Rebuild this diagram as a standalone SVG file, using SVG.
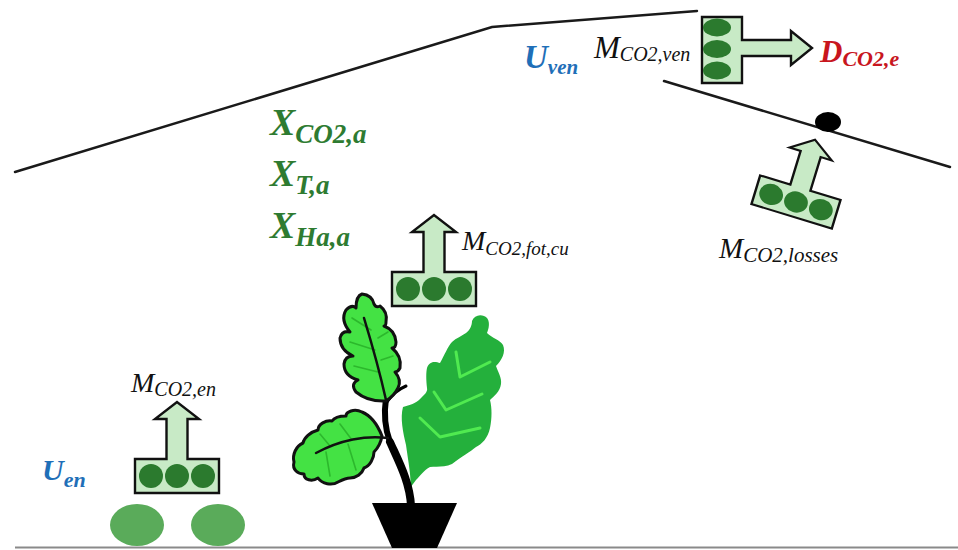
<svg xmlns="http://www.w3.org/2000/svg" xmlns:xlink="http://www.w3.org/1999/xlink" width="958" height="550" viewBox="0 0 958 550">
  <style>
    .roof { fill: none; stroke: #1a1a1a; stroke-width: 2.5; stroke-linecap: round; }
    .ground { stroke: #8a8a8a; stroke-width: 2; }
    .flux { fill: #c8eac6; stroke: #111; stroke-width: 2.4; stroke-linejoin: miter; }
    .cell { fill: #2b7a2e; }
    .m { font-family: "Liberation Serif", "Times New Roman", serif; font-style: italic; fill: #111; }
    .state { font-family: "Liberation Serif", "Times New Roman", serif; font-style: italic; font-weight: bold; fill: #2e7b31; }
    .ctrl { font-family: "Liberation Serif", "Times New Roman", serif; font-style: italic; font-weight: bold; fill: #1f6fb8; }
    .dist { font-family: "Liberation Serif", "Times New Roman", serif; font-style: italic; font-weight: bold; fill: #c8161e; }
    .leafA { fill: #44e244; stroke: #111; stroke-width: 3; stroke-linejoin: round; }
    .rib { fill: none; stroke: #111; stroke-width: 2.5; stroke-linecap: round; }
    .ribA { fill: none; stroke: #2cb82c; stroke-width: 1.6; stroke-linecap: round; }
    .vein { fill: none; stroke: #50ea50; stroke-width: 3; stroke-linecap: round; stroke-linejoin: round; }
  </style>
  <defs>
    <!-- flux symbol: store with three cells and an outgoing arrow, centred on the store -->
    <g id="fluxUp">
      <path class="flux" d="M-42,-17 H-10.5 V-57 H-22 L0,-74 L22,-57 H10.5 V-17 H42 V17 H-42 Z"/>
      <circle class="cell" cx="-26" cy="0" r="12"/>
      <circle class="cell" cx="0" cy="0" r="12"/>
      <circle class="cell" cx="26" cy="0" r="12"/>
    </g>
  </defs>

  <rect width="958" height="550" fill="#fff"/>

  <!-- greenhouse outline -->
  <g id="greenhouse">
    <polyline class="roof" points="15,172 492,27 697,11"/>
    <line class="roof" x1="664" y1="81" x2="950" y2="167"/>
    <line class="ground" x1="15" y1="547.5" x2="958" y2="547.5"/>
    <ellipse cx="828" cy="122" rx="13" ry="10" fill="#000"/>
  </g>

  <!-- state variables -->
  <g id="states">
    <text class="state" x="270" y="135" font-size="38">X<tspan font-size="27" dy="8">CO2,a</tspan></text>
    <text class="state" x="270" y="186" font-size="38">X<tspan font-size="27" dy="8">T,a</tspan></text>
    <text class="state" x="270" y="238" font-size="38">X<tspan font-size="27" dy="8">Ha,a</tspan></text>
  </g>

  <!-- CO2 injection -->
  <g id="injection">
    <use xlink:href="#fluxUp" href="#fluxUp" transform="translate(177,476)"/>
    <text class="m" x="131" y="392" font-size="28">M<tspan font-size="20" dy="4">CO2,en</tspan></text>
    <text class="ctrl" x="42" y="480" font-size="30">U<tspan font-size="22" dy="7">en</tspan></text>
    <ellipse cx="137" cy="525" rx="27" ry="21" fill="#5aab5a"/>
    <ellipse cx="218" cy="525" rx="27" ry="21" fill="#5aab5a"/>
  </g>

  <!-- photosynthesis uptake -->
  <g id="photosynthesis">
    <use xlink:href="#fluxUp" href="#fluxUp" transform="translate(434,289)"/>
    <text class="m" x="462" y="250" font-size="28">M<tspan font-size="19" dy="5">CO2,fot,cu</tspan></text>
  </g>

  <!-- ventilation -->
  <g id="ventilation">
    <path class="flux" d="M702,17 H742 V40 H791 V31 L812,48 L791,65 V56 H742 V83 H702 Z"/>
    <ellipse class="cell" cx="717" cy="27.5" rx="14" ry="9"/>
    <ellipse class="cell" cx="717" cy="49" rx="14" ry="9"/>
    <ellipse class="cell" cx="717" cy="70.5" rx="14" ry="9"/>
    <text class="ctrl" x="524" y="68" font-size="33">U<tspan font-size="21" dy="6">ven</tspan></text>
    <text class="m" x="594" y="58" font-size="31">M<tspan font-size="20" dy="3">CO2,ven</tspan></text>
    <text class="dist" x="820" y="62" font-size="31">D<tspan font-size="22" dy="4">CO2,e</tspan></text>
  </g>

  <!-- leakage losses -->
  <g id="losses">
    <use xlink:href="#fluxUp" href="#fluxUp" transform="translate(796,202) rotate(17) scale(1,0.88)"/>
    <text class="m" x="719" y="258" font-size="29">M<tspan font-size="21" dy="4">CO2,losses</tspan></text>
  </g>

  <!-- crop -->
  <g id="plant">
    <!-- right leaf -->
    <path fill="#24b03c" d="M410,488 C412,480 408,460 406,445 C403,432 400,418 403,407 C410,405 416,403 419,400 C424,395 428,392 427,388 C426,380 426,372 427,368 C430,360 436,362 440,363 C444,356 448,346 452,342 C456,338 462,336 466,333 C470,330 472,325 472,321 C474,316 479,314 484,316 C490,318 490,326 487,333 C492,338 500,340 503,345 C506,352 502,360 496,366 C498,372 502,378 501,384 C500,392 494,396 490,400 C492,408 492,418 490,428 C488,438 482,444 476,447 C470,452 462,456 452,464 C444,468 436,466 430,467 C424,470 420,476 416,480 Z"/>
    <path class="vein" d="M456,352 L460,377 L490,362"/>
    <path class="vein" d="M434,392 L446,410 L482,394"/>
    <path class="vein" d="M420,418 L440,437 L480,428"/>
    <!-- stem and twig -->
    <path fill="none" stroke="#000" stroke-width="8" stroke-linecap="round" d="M411,506 C410,482 398,460 390,442"/>
    <path fill="none" stroke="#000" stroke-width="6" stroke-linecap="round" d="M390,442 C384,426 384,412 386,398"/>
    <path fill="none" stroke="#000" stroke-width="3" stroke-linecap="round" d="M387,402 C392,394 399,389 406,386"/>
    <!-- upper oak leaf -->
    <path class="leafA" d="M386,401 Q368,402 356,392 Q350,384 358,380 Q344,376 344,364 Q345,356 353,356 Q340,350 340,338 Q342,330 350,332 Q340,320 346,310 Q352,304 356,308 Q356,296 362,294 Q372,295 374,304 Q376,308 380,306 Q388,312 386,322 Q386,326 384,326 Q395,330 396,342 Q396,348 392,348 Q402,356 400,368 Q398,372 395,372 Q402,380 398,388 Q394,396 386,401 Z"/>
    <path class="ribA" d="M378,372 L354,366 M375,350 L350,342 M371,330 L352,318 M381,360 L393,356 M378,338 L388,332"/>
    <path class="rib" d="M386,400 Q378,364 364,318"/>
    <!-- lower left oak leaf -->
    <path class="leafA" d="M382,436 C378,426 372,416 362,412 C354,408 346,412 346,416 C340,416 334,418 332,421 C326,420 318,424 318,430 C310,432 304,438 303,443 C296,446 292,455 294,462 C292,470 298,474 304,474 C304,480 312,482 318,478 C322,484 332,486 338,482 C342,480 346,478 350,478 C356,478 362,474 364,468 C370,466 374,458 374,452 C378,448 381,442 382,436 Z"/>
    <path class="ribA" d="M352,440 L340,424 M330,446 L320,434 M348,444 L356,470 M326,452 L330,476"/>
    <path class="rib" d="M388,438 C366,435 340,440 316,453"/>
    <!-- pot -->
    <polygon points="372,503 457,503 437,548 392,548" fill="#000"/>
  </g>
</svg>
